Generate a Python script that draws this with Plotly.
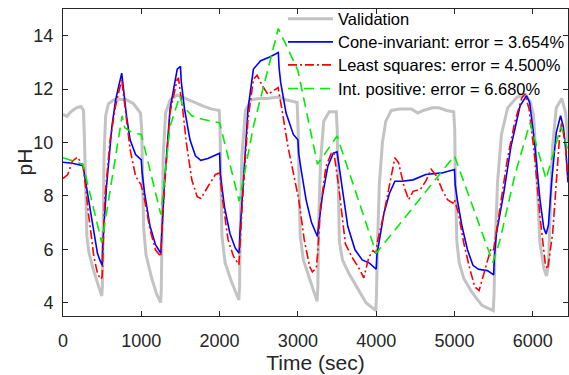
import plotly.graph_objects as go

# ---------------- data ----------------
val_t = [0,50,100,170,230,262,275,290,305,330,380,440,495,503,512,525,545,580,650,800,900,990,1005,1015,1030,1060,1129,1193,1248,1255,1265,1280,1310,1370,1460,1600,1800,1900,1995,2005,2015,2030,2070,2150,2246,2255,2265,2285,2330,2400,2500,2600,2750,2850,2990,3003,3015,3030,3070,3150,3245,3255,3265,3290,3330,3400,3490,3502,3512,3530,3570,3650,3750,3870,3996,4004,4015,4040,4080,4123,4193,4300,4450,4530,4600,4720,4800,4900,4990,5003,5012,5030,5060,5120,5220,5350,5495,5505,5518,5550,5600,5680,5800,5910,5970,6010,6040,6060,6090,6140,6175,6200,6225,6250,6300,6370,6420,6450]
val_y = [11.05,10.98,11.15,11.3,11.35,11.2,10.0,7.8,6.5,5.9,5.3,4.75,4.25,4.6,7.0,9.6,11.0,11.45,11.6,11.62,11.45,11.1,10.5,8.5,6.8,5.8,4.96,4.34,4.0,4.5,7.0,9.5,11.1,11.6,11.78,11.6,11.35,11.25,11.2,10.5,8.5,6.5,5.5,4.8,4.1,4.6,7.0,9.5,11.2,11.6,11.65,11.65,11.7,11.6,11.5,10.5,8.5,6.5,5.6,4.9,4.05,4.6,7.0,9.3,10.8,11.15,11.15,10.5,8.5,6.3,5.6,5.1,4.6,4.0,3.7,4.3,6.0,8.4,10.0,10.8,11.2,11.25,11.25,11.1,11.2,11.3,11.3,11.2,11.15,10.5,8.5,6.3,5.5,4.9,4.4,3.9,3.7,4.3,6.0,8.5,10.3,11.3,11.7,11.8,11.5,11.0,9.5,8.0,6.3,5.3,5.0,5.4,7.5,9.75,11.3,11.65,11.1,10.0]

cone_t = [0,120,255,324,394,440,470,500,510,556,625,672,750,760,811,857,927,1000,1010,1042,1112,1181,1250,1260,1297,1367,1459,1500,1510,1552,1622,1691,1760,1850,1950,2000,2010,2062,2131,2201,2250,2260,2303,2363,2432,2525,2641,2750,2760,2780,2849,2942,3000,3010,3035,3104,3174,3250,3270,3313,3382,3452,3500,3567,3637,3730,3822,3915,4000,4010,4045,4100,4170,4239,4332,4471,4633,4841,5000,5010,5036,5096,5166,5236,5306,5421,5500,5510,5536,5629,5722,5838,5920,5960,6023,6092,6140,6170,6200,6240,6300,6355,6390,6420,6450]
cone_y = [9.26,9.22,9.13,7.85,6.6,5.85,5.6,5.4,6.3,8.36,10.6,11.6,12.6,12.3,11.0,10.1,9.55,9.35,8.9,8.1,6.86,6.17,5.85,6.5,8.5,11.25,12.75,12.85,12.3,11.25,10.1,9.5,9.33,9.4,9.55,9.6,8.8,7.6,6.6,6.04,5.85,6.6,8.5,11.25,12.75,13.06,13.2,13.37,12.8,12.25,11.1,10.3,10.1,9.6,9.1,7.86,7.0,6.48,7.0,8.0,9.1,9.6,9.65,8.36,6.86,5.98,5.6,5.48,5.25,5.8,6.36,7.36,8.1,8.55,8.55,8.6,8.8,8.86,8.99,8.4,7.86,6.86,5.98,5.4,5.25,5.2,5.04,5.7,6.6,8.1,9.86,11.37,11.75,11.5,10.0,7.86,6.8,6.57,6.9,8.5,10.37,11.0,10.6,9.8,8.5]

ls_t = [0,60,120,185,230,255,290,324,394,440,480,500,510,533,602,672,750,788,857,927,996,1042,1112,1181,1250,1260,1297,1367,1459,1475,1529,1575,1645,1714,1760,1853,1946,2000,2038,2108,2178,2247,2260,2293,2363,2432,2479,2548,2618,2687,2747,2803,2872,2942,3011,3081,3150,3185,3235,3255,3289,3359,3428,3460,3521,3607,3692,3778,3842,3906,3960,4000,4010,4100,4170,4239,4286,4355,4415,4471,4564,4633,4702,4772,4841,4911,4980,5000,5050,5119,5189,5258,5314,5397,5467,5500,5583,5675,5768,5861,5900,5953,6023,6092,6162,6190,6254,6300,6346,6370,6417,6450]
ls_y = [8.65,8.8,9.3,9.45,9.25,9.15,8.3,7.36,5.73,5.1,4.88,4.95,5.8,7.86,10.1,11.37,12.37,11.37,9.74,8.74,8.42,7.86,6.73,5.98,5.73,6.5,8.36,11.12,12.37,12.4,11.25,10.0,8.6,7.97,7.9,8.36,8.8,8.86,7.86,6.36,5.73,5.42,6.2,7.86,10.87,12.37,12.52,12.12,11.8,11.93,12.06,11.12,9.86,8.86,7.86,6.36,5.35,5.15,5.3,5.9,7.6,9.1,9.6,9.63,8.36,6.2,5.7,5.3,4.93,5.7,5.95,5.85,6.2,7.36,8.36,9.43,9.24,8.36,7.86,8.17,8.24,8.55,9.0,8.74,8.24,7.86,7.73,7.86,7.36,6.23,5.35,4.6,4.45,5.35,6.04,5.98,7.6,9.36,10.74,11.68,11.82,11.25,9.5,7.23,5.4,5.25,6.6,8.5,10.37,10.75,9.9,8.6]

ip_t = [0,255,495,755,790,870,1000,1250,1367,1492,1530,1645,1780,2000,2250,2432,2750,3000,3250,3500,4000,5000,5490,5583,5768,5965,6170,6360,6450]
ip_y = [9.43,9.18,6.25,11.0,10.55,10.4,10.3,7.3,10.6,11.75,11.37,11.0,10.87,10.74,7.8,10.6,14.27,12.7,9.18,10.24,5.85,9.5,5.5,6.36,8.74,10.74,8.63,10.6,9.7]

names = ["Validation",
         "Cone-invariant: error = 3.654%",
         "Least squares: error = 4.500%",
         "Int. positive: error = 6.680%"]

x_ticks = [0, 1000, 2000, 3000, 4000, 5000, 6000]
y_ticks = [4, 6, 8, 10, 12, 14]

# ---------------- figure ----------------
FONT = "Liberation Sans, Arial, sans-serif"
AX = "#262626"

fig = go.Figure()
fig.add_trace(go.Scatter(x=val_t, y=val_y, mode="lines", name=names[0], legend="legend",
                         line=dict(color="rgb(195,195,195)", width=3)))
fig.add_trace(go.Scatter(x=cone_t, y=cone_y, mode="lines", name=names[1], legend="legend2",
                         line=dict(color="#0000ff", width=1.6)))
fig.add_trace(go.Scatter(x=ls_t, y=ls_y, mode="lines", name=names[2], legend="legend3",
                         line=dict(color="#ff0000", width=1.6, dash="9px,3px,2px,3px")))
fig.add_trace(go.Scatter(x=ip_t, y=ip_y, mode="lines", name=names[3], legend="legend4",
                         line=dict(color="#00ee00", width=1.6, dash="10px,6px")))

axis_common = dict(
    showgrid=False, zeroline=False, showline=True, linecolor=AX, linewidth=1,
    mirror="ticks", ticks="inside", ticklen=5, tickcolor=AX, tickwidth=1,
    tickfont=dict(family=FONT, size=18, color=AX),
)
fig.update_xaxes(range=[0, 6450], tickvals=x_ticks, ticklabelstandoff=8,
                 title=dict(text="Time (sec)", font=dict(family=FONT, size=21, color=AX), standoff=5),
                 **axis_common)
fig.update_yaxes(range=[3.5, 15], tickvals=y_ticks, ticklabelstandoff=5,
                 **axis_common)

fig.add_annotation(text="pH", xref="paper", yref="paper", x=0, y=0.5, xshift=-39,
                   textangle=-90, showarrow=False, xanchor="center", yanchor="middle",
                   font=dict(family=FONT, size=21, color=AX))

leg_font = dict(family=FONT, size=16.5, color="#000")
leg_common = dict(x=0.4356, xanchor="left", yanchor="middle", itemwidth=45,
                  bgcolor="rgba(0,0,0,0)", borderwidth=0, font=leg_font)
row_y = [0.967, 0.892, 0.817, 0.740]

fig.update_layout(
    width=569, height=375,
    margin=dict(l=63, r=1, t=9, b=59, autoexpand=False),
    plot_bgcolor="white", paper_bgcolor="white",
    font=dict(family=FONT, color="#000"),
    showlegend=True,
    legend=dict(y=row_y[0], **leg_common),
    legend2=dict(y=row_y[1], **leg_common),
    legend3=dict(y=row_y[2], **leg_common),
    legend4=dict(y=row_y[3], **leg_common),
)

fig.write_html("out.html")
